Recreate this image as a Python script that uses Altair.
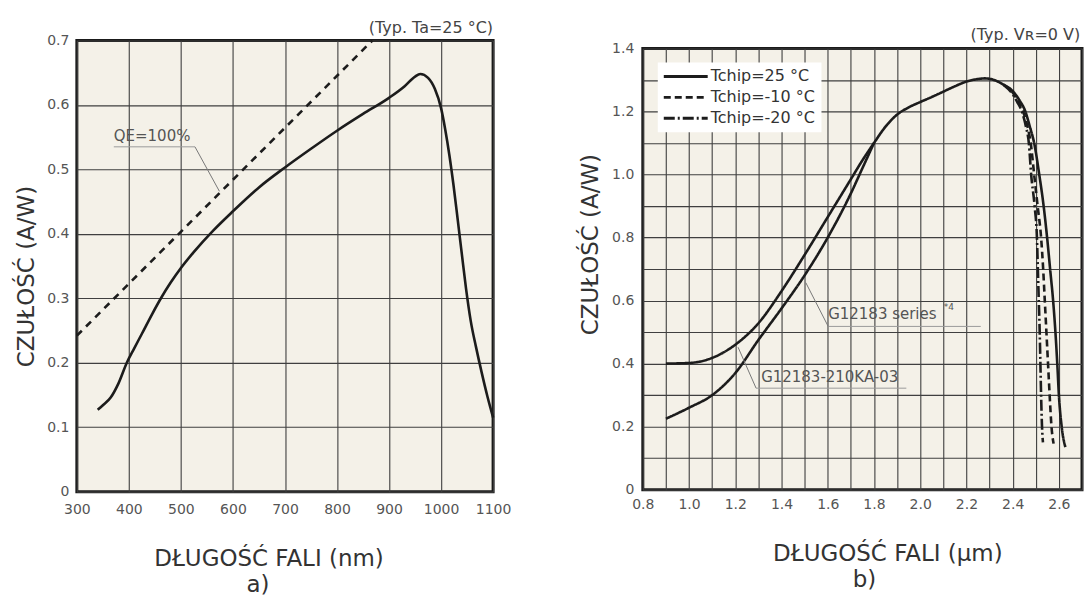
import altair as alt
import pandas as pd

# ---------------- Panel a) : responsivity vs wavelength (nm) ----------------
left_wl = [340, 350, 365, 380, 396, 410, 425, 445, 463, 480, 500, 525, 562, 600,
           650, 700, 750, 800, 850, 900, 930, 950, 960, 975, 988, 1000, 1008,
           1016, 1024, 1032, 1040, 1048, 1057, 1067, 1078, 1089, 1100]
left_resp = [0.127, 0.134, 0.146, 0.168, 0.200, 0.222, 0.245, 0.276, 0.302, 0.324,
             0.347, 0.372, 0.405, 0.435, 0.472, 0.503, 0.532, 0.560, 0.586, 0.611,
             0.629, 0.644, 0.648, 0.642, 0.625, 0.595, 0.562, 0.522, 0.475, 0.422,
             0.368, 0.315, 0.265, 0.225, 0.185, 0.148, 0.115]

qe_wl = [300, 868]
qe_resp = [0.242, 0.700]

left_x_ticks = [300, 400, 500, 600, 700, 800, 900, 1000, 1100]
left_y_ticks = [0, 0.1, 0.2, 0.3, 0.4, 0.5, 0.6, 0.7]

# ---------------- Panel b) : responsivity vs wavelength (um) ----------------
# G12183-210KA-03 branch (upper at short wavelengths)
branch_a_wl = [0.9, 1.0, 1.1, 1.2, 1.3, 1.4, 1.5, 1.6, 1.7, 1.75, 1.8]
branch_a_r = [0.400, 0.402, 0.418, 0.460, 0.528, 0.630, 0.745, 0.865, 0.985, 1.045, 1.100]
# G12183 series branch (lower at short wavelengths)
branch_b_wl = [0.9, 1.0, 1.1, 1.2, 1.3, 1.4, 1.5, 1.6, 1.7, 1.75, 1.8]
branch_b_r = [0.225, 0.260, 0.300, 0.370, 0.475, 0.575, 0.680, 0.800, 0.940, 1.020, 1.100]
# common part, Tchip = 25 C
common_wl = [1.8, 1.85, 1.9, 1.95, 2.0, 2.05, 2.1, 2.15, 2.2, 2.25, 2.28, 2.32, 2.36,
             2.4, 2.43, 2.455, 2.475, 2.493, 2.515, 2.534, 2.549, 2.562, 2.575,
             2.585, 2.593, 2.600, 2.612, 2.628]
common_r = [1.100, 1.152, 1.190, 1.213, 1.230, 1.246, 1.263, 1.280, 1.295, 1.303,
            1.305, 1.300, 1.285, 1.265, 1.235, 1.200, 1.150, 1.100, 1.000, 0.900,
            0.800, 0.700, 0.600, 0.500, 0.400, 0.300, 0.200, 0.135]
# Tchip = -10 C tail
m10_wl = [2.36, 2.40, 2.425, 2.445, 2.465, 2.478, 2.493, 2.508, 2.523, 2.532,
          2.539, 2.546, 2.553, 2.560, 2.568, 2.577]
m10_r = [1.285, 1.260, 1.230, 1.200, 1.150, 1.100, 1.000, 0.900, 0.800, 0.700,
         0.600, 0.500, 0.400, 0.300, 0.200, 0.146]
# Tchip = -20 C tail
m20_wl = [2.36, 2.40, 2.42, 2.44, 2.458, 2.470, 2.480, 2.495, 2.505, 2.509,
          2.513, 2.517, 2.520, 2.523, 2.527, 2.531]
m20_r = [1.285, 1.255, 1.230, 1.200, 1.150, 1.100, 1.000, 0.900, 0.800, 0.700,
         0.600, 0.500, 0.400, 0.300, 0.200, 0.150]

temps = ["Tchip=25 °C", "Tchip=-10 °C", "Tchip=-20 °C"]
dashes = [[1, 0], [7, 4], [11, 3, 2, 3]]

right_x_grid = [0.8, 0.9, 1.0, 1.1, 1.2, 1.3, 1.4, 1.5, 1.6, 1.7, 1.8, 1.9, 2.0,
                2.1, 2.2, 2.3, 2.4, 2.5, 2.6, 2.7]
right_y_grid = [0, 0.1, 0.2, 0.3, 0.4, 0.5, 0.6, 0.7, 0.8, 0.9, 1.0, 1.1, 1.2, 1.3, 1.4]

FONT = "DejaVu Sans"
INK = "#1c1c1c"
GRID = "#3f3f3f"
LABEL = "#555555"
TITLE = "#333333"
NOTE = "#555555"

# ---------------- axes & scales ----------------
lx = alt.Scale(domain=[300, 1100], nice=False, zero=False)
ly = alt.Scale(domain=[0, 0.7], nice=False)
rx = alt.Scale(domain=[0.8, 2.7], nice=False, zero=False)
ry = alt.Scale(domain=[0, 1.4], nice=False)

common_axis = dict(grid=True, gridColor=GRID, gridWidth=1.1, ticks=False, domain=False,
                   labelFontSize=14, labelColor=LABEL, labelFont=FONT,
                   labelOverlap=False, labelFlush=False, titleFontSize=23,
                   titleFontWeight="normal", titleColor=TITLE, titleFont=FONT)

lx_axis = alt.Axis(
    values=left_x_ticks, format="d", labelPadding=11,
    title="DŁUGOŚĆ FALI (nm)", titleX=192, titleY=67, titleBaseline="middle",
    titleAlign="center", **common_axis)
ly_axis = alt.Axis(
    values=left_y_ticks, labelPadding=8,
    labelExpr="datum.value == 0 ? '0' : format(datum.value, '.1f')",
    title="CZUŁOŚĆ (A/W)", titleX=-50, titleY=236, titleAngle=270,
    titleBaseline="middle", titleAlign="center", **common_axis)
rx_axis = alt.Axis(
    values=right_x_grid, labelPadding=8,
    labelExpr="round(datum.value * 10) % 2 == 0 ? format(datum.value, '.1f') : ''",
    title="DŁUGOŚĆ FALI (µm)", titleX=245, titleY=64,
    titleBaseline="middle", titleAlign="center", **common_axis)
ry_axis = alt.Axis(
    values=right_y_grid, labelPadding=9,
    labelExpr="round(datum.value * 10) % 2 == 0 ? (datum.value == 0 ? '0' : format(datum.value, '.1f')) : ''",
    title="CZUŁOŚĆ (A/W)", titleX=-52, titleY=196, titleAngle=270,
    titleBaseline="middle", titleAlign="center", **common_axis)


def LX(f):
    return alt.X(f, type="quantitative", scale=lx, axis=lx_axis)


def LY(f):
    return alt.Y(f, type="quantitative", scale=ly, axis=ly_axis)


def RX(f):
    return alt.X(f, type="quantitative", scale=rx, axis=rx_axis)


def RY(f):
    return alt.Y(f, type="quantitative", scale=ry, axis=ry_axis)


# ---------------- build panel a ----------------
df_left = pd.DataFrame({"wl": left_wl, "r": left_resp})
df_qe = pd.DataFrame({"wl": qe_wl, "r": qe_resp})

left_curve = alt.Chart(df_left).mark_line(
    color=INK, strokeWidth=2.6, interpolate="monotone"
).encode(x=LX("wl"), y=LY("r"))

left_qe = alt.Chart(df_qe).mark_line(
    color=INK, strokeWidth=2.6, strokeDash=[7, 6]
).encode(x=LX("wl"), y=LY("r"))

# annotation: QE=100%
qe_note_text = ["QE=100%"]
qe_note_x = [371]
qe_note_y = [0.552]
qe_under_x = [371]
qe_under_x2 = [527]
qe_under_y = [0.535]
qe_leader_x = [527]
qe_leader_x2 = [574]
qe_leader_y = [0.535]
qe_leader_y2 = [0.466]

df_qe_note = pd.DataFrame({"wl": qe_note_x, "r": qe_note_y, "t": qe_note_text})
df_qe_under = pd.DataFrame({"wl": qe_under_x, "wl2": qe_under_x2, "r": qe_under_y, "r2": qe_under_y})
df_qe_leader = pd.DataFrame({"wl": qe_leader_x, "wl2": qe_leader_x2, "r": qe_leader_y, "r2": qe_leader_y2})

qe_text = alt.Chart(df_qe_note).mark_text(
    align="left", baseline="middle", fontSize=15, color=NOTE, font=FONT
).encode(x=LX("wl"), y=LY("r"), text="t:N")
qe_under = alt.Chart(df_qe_under).mark_rule(color="#9a9a9a", strokeWidth=1).encode(
    x=LX("wl"), x2="wl2:Q", y=LY("r"), y2="r2:Q")
qe_lead = alt.Chart(df_qe_leader).mark_rule(color="#777777", strokeWidth=1).encode(
    x=LX("wl"), x2="wl2:Q", y=LY("r"), y2="r2:Q")

typ_left = alt.Chart(pd.DataFrame({"wl": [1100], "r": [0.72], "t": ["(Typ. Ta=25 °C)"]})).mark_text(
    align="right", baseline="middle", fontSize=16, color="#444444", font=FONT
).encode(x=LX("wl"), y=LY("r"), text="t:N")

left_chart = alt.layer(left_curve, left_qe, qe_under, qe_lead, qe_text, typ_left).properties(
    width=417, height=452,
    title=alt.TitleParams("a)", orient="bottom", fontSize=23, fontWeight="normal",
                          color=TITLE, font=FONT, dx=-27, offset=4),
)

# ---------------- build panel b ----------------
rows = []
for w, r in zip(branch_a_wl, branch_a_r):
    rows.append({"wl": w, "r": r, "line": "G12183-210KA-03", "temp": temps[0]})
for w, r in zip(common_wl, common_r):
    rows.append({"wl": w, "r": r, "line": "G12183-210KA-03", "temp": temps[0]})
for w, r in zip(branch_b_wl, branch_b_r):
    rows.append({"wl": w, "r": r, "line": "G12183 series", "temp": temps[0]})
for w, r in zip(m10_wl, m10_r):
    rows.append({"wl": w, "r": r, "line": "m10", "temp": temps[1]})
for w, r in zip(m20_wl, m20_r):
    rows.append({"wl": w, "r": r, "line": "m20", "temp": temps[2]})
df_right = pd.DataFrame(rows).drop_duplicates(subset=["wl", "line"])

right_curves = alt.Chart(df_right).mark_line(
    color=INK, strokeWidth=2.6, interpolate="monotone"
).encode(
    x=RX("wl"), y=RY("r"),
    detail="line:N",
    strokeDash=alt.StrokeDash("temp:N", scale=alt.Scale(domain=temps, range=dashes),
                              legend=alt.Legend(
                                  title=None, orient="none", legendX=15, legendY=14,
                                  fillColor="white", padding=6, labelFontSize=16,
                                  labelColor="#333333", labelFont=FONT,
                                  symbolType="M-4,0L4,0", symbolSize=121,
                                  symbolOffset=14, labelOffset=17,
                                  symbolStrokeWidth=3, symbolStrokeColor=INK,
                                  rowPadding=5)),
)

# annotations in panel b
note_text = ["G12183 series", "G12183-210KA-03"]
note_x = [1.602, 1.312]
note_y = [0.556, 0.358]
sup_text = ["*4"]
sup_x = [2.102]
sup_y = [0.580]
under_x = [1.602, 1.290]
under_x2 = [2.262, 1.940]
under_y = [0.518, 0.322]
leader_x = [1.602, 1.290]
leader_x2 = [1.505, 1.212]
leader_y = [0.518, 0.322]
leader_y2 = [0.657, 0.452]

df_notes = pd.DataFrame({"wl": note_x, "r": note_y, "t": note_text})
df_sup = pd.DataFrame({"wl": sup_x, "r": sup_y, "t": sup_text})
df_under = pd.DataFrame({"wl": under_x, "wl2": under_x2, "r": under_y, "r2": under_y})
df_lead = pd.DataFrame({"wl": leader_x, "wl2": leader_x2, "r": leader_y, "r2": leader_y2})

r_notes = alt.Chart(df_notes).mark_text(
    align="left", baseline="middle", fontSize=15, color=NOTE, font=FONT
).encode(x=RX("wl"), y=RY("r"), text="t:N")
r_sup = alt.Chart(df_sup).mark_text(
    align="left", baseline="middle", fontSize=9, color=NOTE, font=FONT
).encode(x=RX("wl"), y=RY("r"), text="t:N")
r_under = alt.Chart(df_under).mark_rule(color="#9a9a9a", strokeWidth=1).encode(
    x=RX("wl"), x2="wl2:Q", y=RY("r"), y2="r2:Q")
r_lead = alt.Chart(df_lead).mark_rule(color="#777777", strokeWidth=1).encode(
    x=RX("wl"), x2="wl2:Q", y=RY("r"), y2="r2:Q")

typ_right = alt.Chart(pd.DataFrame({"wl": [2.692], "r": [1.444], "t": ["(Typ. Vʀ=0 V)"]})).mark_text(
    align="right", baseline="middle", fontSize=16, color="#444444", font=FONT
).encode(x=RX("wl"), y=RY("r"), text="t:N")

right_chart = alt.layer(right_curves, r_under, r_lead, r_notes, r_sup, typ_right).properties(
    width=440, height=442,
    title=alt.TitleParams("b)", orient="bottom", fontSize=23, fontWeight="normal",
                          color=TITLE, font=FONT, dx=2, offset=4),
)

spacer = alt.Chart(pd.DataFrame({"v": [0]})).mark_point(opacity=0).encode(
    x=alt.X("v:Q", axis=None), y=alt.Y("v:Q", axis=None)
).properties(width=440, height=8,
             view=alt.ViewBackground(stroke="transparent", fill="transparent", strokeWidth=0))

right_col = alt.vconcat(spacer, right_chart, spacing=0, bounds="flush").resolve_legend(
    strokeDash="independent")

chart = alt.hconcat(left_chart, right_col, spacing=150, bounds="flush").resolve_legend(
    strokeDash="independent"
).properties(
    padding={"left": 14, "top": 17, "right": 2, "bottom": 2},
    background="white",
).configure(font=FONT).configure_view(
    stroke="#1a1a1a", strokeWidth=3, fill="#f4f1e8"
)

chart.save("out.html", embed_options={"renderer": "svg", "actions": False})
